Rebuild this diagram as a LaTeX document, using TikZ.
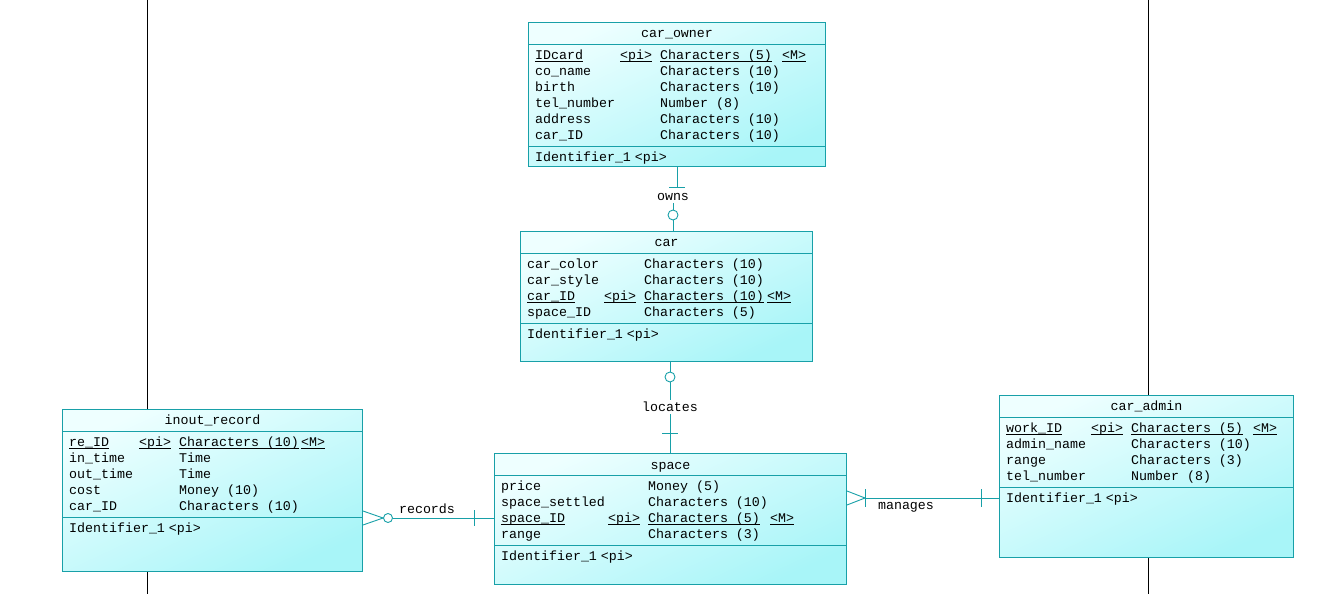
\documentclass[tikz,border=0pt]{standalone}
\usepackage{fontspec}
\usepackage{xcolor}
\newfontfamily\erfont{Liberation Mono}
\definecolor{erline}{RGB}{24,160,168}
\definecolor{erlight}{RGB}{238,255,255}
\definecolor{erdeep}{RGB}{168,245,248}
\newcommand{\pkey}[1]{\underline{\smash{#1}}}
\setlength{\tabcolsep}{0pt}

\begin{document}
\begin{tikzpicture}[x=1pt, y=-1pt,
  every node/.style = {font=\erfont\fontsize{13.3}{16}\selectfont},
  entity/.style = {draw=erline, line width=1pt, top color=erlight, bottom color=erdeep, shading angle=25, anchor=north west, inner sep=0pt},
  heading/.style = {anchor=base, inner sep=0pt},
  fields/.style = {anchor=base west, inner sep=0pt},
  divide/.style = {draw=erline, line width=0.8pt},
  rel/.style = {draw=erline, line width=0.9pt},
  optional/.style = {draw=erline, line width=0.9pt, circle, inner sep=0pt, minimum size=10pt},
  relname/.style = {inner sep=2pt}]
\useasboundingbox (0,0) rectangle (1334,594);
\draw[line width=0.8pt] (147,0) -- (147,594);
\draw[line width=0.8pt] (1148,0) -- (1148,594);

% car_owner
\node[entity, minimum width=297pt, minimum height=144pt] (owner) at (528,22) {};
\draw[divide] (owner.west |- 0,44) -- (owner.east |- 0,44);
\draw[divide] (owner.west |- 0,146) -- (owner.east |- 0,146);
\node[heading] (owner-title) at (owner.north |- 0,37.5) {car\_owner};
\node[fields] (owner-attr) at (535,59.5) {\begin{tabular}[t]{@{}p{85pt}p{40pt}p{122pt}l@{}}
\pkey{IDcard} & \pkey{<pi>} & \pkey{Characters (5)} & \pkey{<M>}\\
co\_name & & Characters (10) & \\
birth & & Characters (10) & \\
tel\_number & & Number (8) & \\
address & & Characters (10) & \\
car\_ID & & Characters (10) & \\
\end{tabular}};
\node[fields] (owner-id) at (535,161.5) {Identifier\_1\kern4pt<pi>};

% car
\node[entity, minimum width=292pt, minimum height=130pt] (car) at (520,231) {};
\draw[divide] (car.west |- 0,253) -- (car.east |- 0,253);
\draw[divide] (car.west |- 0,323) -- (car.east |- 0,323);
\node[heading] (car-title) at (car.north |- 0,246.5) {car};
\node[fields] (car-attr) at (527,268.5) {\begin{tabular}[t]{@{}p{77pt}p{40pt}p{123pt}l@{}}
car\_color & & Characters (10) & \\
car\_style & & Characters (10) & \\
\pkey{car\_ID} & \pkey{<pi>} & \pkey{Characters (10)} & \pkey{<M>}\\
space\_ID & & Characters (5) & \\
\end{tabular}};
\node[fields] (car-id) at (527,338.5) {Identifier\_1\kern4pt<pi>};

% inout_record
\node[entity, minimum width=300pt, minimum height=162pt] (inout) at (62,409) {};
\draw[divide] (inout.west |- 0,431) -- (inout.east |- 0,431);
\draw[divide] (inout.west |- 0,517) -- (inout.east |- 0,517);
\node[heading] (inout-title) at (inout.north |- 0,424.5) {inout\_record};
\node[fields] (inout-attr) at (69,446.5) {\begin{tabular}[t]{@{}p{70pt}p{40pt}p{122pt}l@{}}
\pkey{re\_ID} & \pkey{<pi>} & \pkey{Characters (10)} & \pkey{<M>}\\
in\_time & & Time & \\
out\_time & & Time & \\
cost & & Money (10) & \\
car\_ID & & Characters (10) & \\
\end{tabular}};
\node[fields] (inout-id) at (69,532.5) {Identifier\_1\kern4pt<pi>};

% space
\node[entity, minimum width=352pt, minimum height=131pt] (space) at (494,453) {};
\draw[divide] (space.west |- 0,475) -- (space.east |- 0,475);
\draw[divide] (space.west |- 0,545) -- (space.east |- 0,545);
\node[heading] (space-title) at (space.north |- 0,469.5) {space};
\node[fields] (space-attr) at (501,490.5) {\begin{tabular}[t]{@{}p{107pt}p{40pt}p{122pt}l@{}}
price & & Money (5) & \\
space\_settled & & Characters (10) & \\
\pkey{space\_ID} & \pkey{<pi>} & \pkey{Characters (5)} & \pkey{<M>}\\
range & & Characters (3) & \\
\end{tabular}};
\node[fields] (space-id) at (501,560.5) {Identifier\_1\kern4pt<pi>};

% car_admin
\node[entity, minimum width=294pt, minimum height=162pt] (admin) at (999,395) {};
\draw[divide] (admin.west |- 0,417) -- (admin.east |- 0,417);
\draw[divide] (admin.west |- 0,487) -- (admin.east |- 0,487);
\node[heading] (admin-title) at (admin.north |- 0,410.5) {car\_admin};
\node[fields] (admin-attr) at (1006,432.5) {\begin{tabular}[t]{@{}p{85pt}p{40pt}p{122pt}l@{}}
\pkey{work\_ID} & \pkey{<pi>} & \pkey{Characters (5)} & \pkey{<M>}\\
admin\_name & & Characters (10) & \\
range & & Characters (3) & \\
tel\_number & & Number (8) & \\
\end{tabular}};
\node[fields] (admin-id) at (1006,502.5) {Identifier\_1\kern4pt<pi>};

% owns
\node[relname] (owns) at (673,197) {owns};
\node[optional] (c1) at (673,215) {};
\draw[rel] (owner.south) -- ++(0,20) coordinate (t1);
\draw[rel] ([xshift=-8pt]t1) -- ([xshift=8pt]t1);
\draw[rel] (owns) -- (c1);
\draw[rel] (c1) -- (c1 |- car.north);

% locates
\node[optional] (c2) at (670,377) {};
\node[relname] (locates) at (670,407) {locates};
\draw[rel] (c2 |- car.south) -- (c2);
\draw[rel] (c2) -- (locates);
\draw[rel] (locates) -- (locates |- space.north);
\coordinate (t2) at (670,433);
\draw[rel] ([xshift=-8pt]t2) -- ([xshift=8pt]t2);

% records
\node[optional, minimum size=9pt] (c3) at (388,518) {};
\node[relname] (records) at (427,509) {records};
\draw[rel] ([yshift=7pt]inout.east |- c3) -- (c3.west);
\draw[rel] ([yshift=-7pt]inout.east |- c3) -- (c3.west);
\draw[rel] (c3) -- (c3 -| space.west);
\coordinate (t3) at (474,518);
\draw[rel] ([yshift=8pt]t3) -- ([yshift=-8pt]t3);

% manages
\coordinate (t4) at (865,498);
\node[relname] (manages) at (906,507) {manages};
\draw[rel] ([yshift=7pt]space.east |- t4) -- (t4);
\draw[rel] ([yshift=-7pt]space.east |- t4) -- (t4);
\draw[rel] (t4) -- (t4 -| admin.west);
\draw[rel] ([yshift=9pt]t4) -- ([yshift=-9pt]t4);
\coordinate (t5) at (981,498);
\draw[rel] ([yshift=9pt]t5) -- ([yshift=-9pt]t5);
\end{tikzpicture}
\end{document}
